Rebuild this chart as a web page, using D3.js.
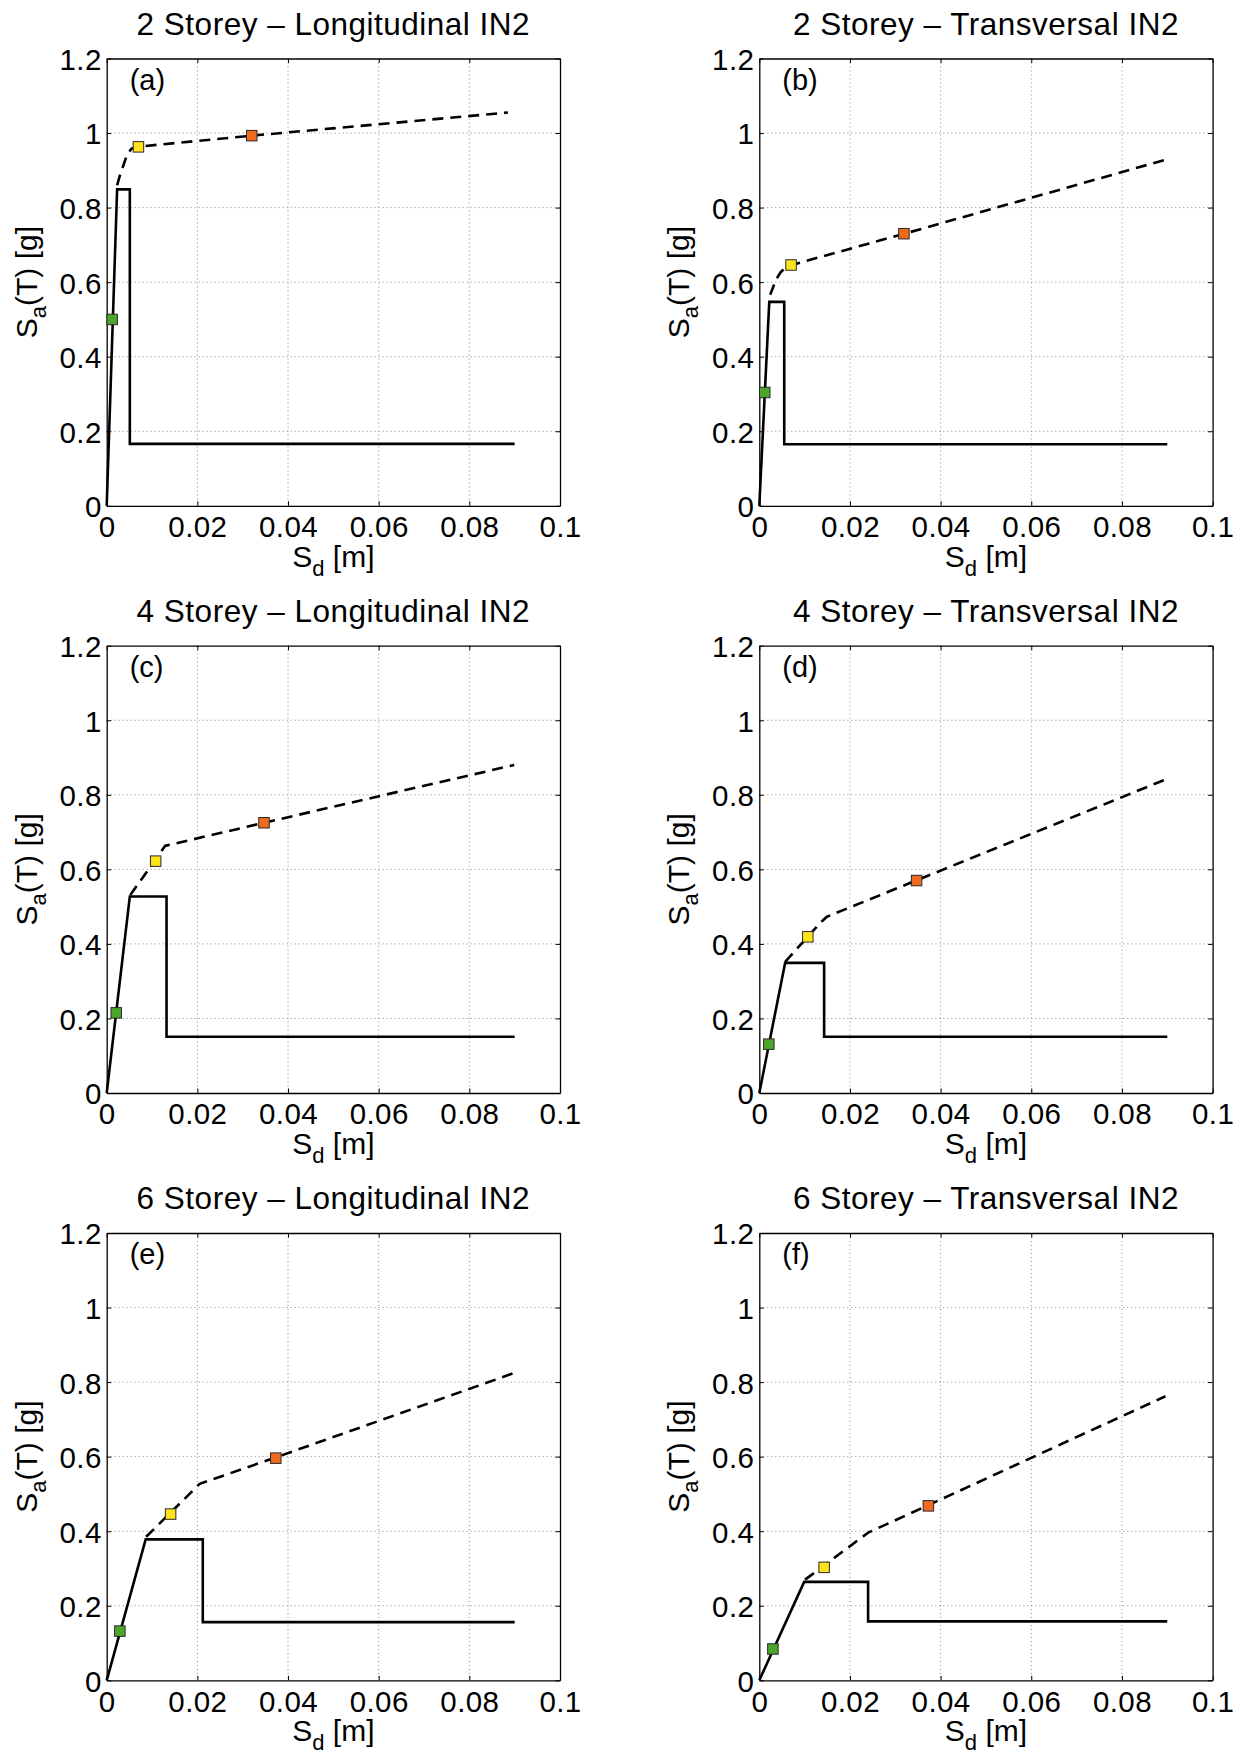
<!DOCTYPE html>
<html>
<head>
<meta charset="utf-8">
<script src="https://cdn.jsdelivr.net/npm/d3@7"></script>
<style>
  body { margin: 0; background: #fff; }
  text { font-family: "Liberation Sans", Arial, Helvetica, sans-serif; fill: #000; }
</style>
</head>
<body>
<svg id="fig" width="1240" height="1755"></svg>
<script>
// ---- data -------------------------------------------------------------
const panelTitles = [
  "2 Storey – Longitudinal IN2", "2 Storey – Transversal IN2",
  "4 Storey – Longitudinal IN2", "4 Storey – Transversal IN2",
  "6 Storey – Longitudinal IN2", "6 Storey – Transversal IN2"
];
const panelLetters = ["(a)", "(b)", "(c)", "(d)", "(e)", "(f)"];

const xTicks = [0, 0.02, 0.04, 0.06, 0.08, 0.1];
const xTickLabels = ["0", "0.02", "0.04", "0.06", "0.08", "0.1"];
const yTicks = [0, 0.2, 0.4, 0.6, 0.8, 1, 1.2];
const yTickLabels = ["0", "0.2", "0.4", "0.6", "0.8", "1", "1.2"];

// demand spectrum, [Sd (m), Sa (g)]
const spectrumA = [[0, 0], [0.0023, 0.849], [0.0051, 0.849], [0.0051, 0.166], [0.09, 0.166]];
const spectrumB = [[0, 0], [0.0022, 0.547], [0.0055, 0.547], [0.0055, 0.165], [0.09, 0.165]];
const spectrumC = [[0, 0], [0.0051, 0.527], [0.0132, 0.527], [0.0132, 0.151], [0.09, 0.151]];
const spectrumD = [[0, 0], [0.0057, 0.349], [0.0143, 0.349], [0.0143, 0.151], [0.09, 0.151]];
const spectrumE = [[0, 0], [0.0086, 0.378], [0.0212, 0.378], [0.0212, 0.156], [0.09, 0.156]];
const spectrumF = [[0, 0], [0.0099, 0.264], [0.024, 0.264], [0.024, 0.158], [0.09, 0.158]];

// capacity curve, [Sd (m), Sa (g)]
const capacityA = [[0.0023, 0.86], [0.003, 0.89], [0.0037, 0.914], [0.0043, 0.935], [0.0048, 0.948],
                   [0.0055, 0.958], [0.0065, 0.963], [0.032, 0.993], [0.0885, 1.055]];
const capacityB = [[0.0024, 0.566], [0.003, 0.585], [0.0035, 0.60], [0.0041, 0.615], [0.0048, 0.628],
                   [0.0057, 0.638], [0.0068, 0.645], [0.032, 0.73], [0.0895, 0.928]];
const capacityC = [[0.0052, 0.531], [0.0129, 0.663], [0.0347, 0.725], [0.0899, 0.880]];
const capacityD = [[0.0057, 0.352], [0.0135, 0.457], [0.0149, 0.473], [0.0898, 0.842]];
const capacityE = [[0.0087, 0.385], [0.0205, 0.527], [0.0373, 0.598], [0.0898, 0.824]];
const capacityF = [[0.0101, 0.27], [0.024, 0.396], [0.0373, 0.470], [0.0896, 0.762]];

// performance points: [green, yellow, orange]
const pointsA = [[0.0012, 0.50], [0.0070, 0.963], [0.0320, 0.993]];
const pointsB = [[0.0012, 0.304], [0.0070, 0.646], [0.0319, 0.730]];
const pointsC = [[0.0021, 0.215], [0.0108, 0.622], [0.0347, 0.725]];
const pointsD = [[0.0021, 0.131], [0.0107, 0.419], [0.0347, 0.570]];
const pointsE = [[0.0029, 0.132], [0.0141, 0.446], [0.0373, 0.596]];
const pointsF = [[0.0030, 0.084], [0.0143, 0.303], [0.0373, 0.468]];
const pointColors = ["#4ea52c", "#ffe31a", "#ee6b1e"];

const spectra = [spectrumA, spectrumB, spectrumC, spectrumD, spectrumE, spectrumF];
const capacities = [capacityA, capacityB, capacityC, capacityD, capacityE, capacityF];
const points = [pointsA, pointsB, pointsC, pointsD, pointsE, pointsF];

// ---- layout -----------------------------------------------------------
const colLeft = [106.7, 759.3];
const rowTop = [58.5, 645.7, 1233];
const plotW = 453.3, plotH = 447.3;
const FONT = "'Liberation Sans', Arial, Helvetica, sans-serif";

const svg = d3.select("#fig");
svg.append("rect").attr("width", 1240).attr("height", 1755).attr("fill", "#fff");

panelTitles.forEach((title, i) => {
  const left = colLeft[i % 2], top = rowTop[Math.floor(i / 2)];
  const x = d3.scaleLinear().domain([0, 0.1]).range([0, plotW]);
  const y = d3.scaleLinear().domain([0, 1.2]).range([plotH, 0]);
  const g = svg.append("g").attr("transform", `translate(${left},${top})`);

  // dotted grid
  g.append("g").selectAll("line").data(xTicks.slice(1, -1)).join("line")
    .attr("x1", d => x(d)).attr("x2", d => x(d)).attr("y1", 0).attr("y2", plotH)
    .attr("stroke", "#8a8a8a").attr("stroke-width", 1).attr("stroke-dasharray", "1,3");
  g.append("g").selectAll("line").data(yTicks.slice(1, -1)).join("line")
    .attr("y1", d => y(d)).attr("y2", d => y(d)).attr("x1", 0).attr("x2", plotW)
    .attr("stroke", "#8a8a8a").attr("stroke-width", 1).attr("stroke-dasharray", "1,3");

  // axes with inward ticks on all four sides
  const tick = 4.5;
  const xb = g.append("g").attr("transform", `translate(0,${plotH})`)
    .call(d3.axisBottom(x).tickValues(xTicks).tickSize(-tick).tickSizeOuter(0)
      .tickPadding(10.5).tickFormat((d, k) => xTickLabels[k]));
  const yl = g.append("g")
    .call(d3.axisLeft(y).tickValues(yTicks).tickSize(-tick).tickSizeOuter(0)
      .tickPadding(5).tickFormat((d, k) => yTickLabels[k]));
  g.append("g").call(d3.axisTop(x).tickValues(xTicks).tickSize(-tick).tickSizeOuter(0).tickFormat(""));
  g.append("g").attr("transform", `translate(${plotW},0)`)
    .call(d3.axisRight(y).tickValues(yTicks).tickSize(-tick).tickSizeOuter(0).tickFormat(""));
  g.selectAll(".domain").attr("stroke", "#000").attr("stroke-width", 1.3);
  g.selectAll(".tick line").attr("stroke", "#000").attr("stroke-width", 1);
  [xb, yl].forEach(a => a.selectAll("text").attr("font-size", 29.5)
    .attr("font-family", FONT).attr("fill", "#000").attr("letter-spacing", 0.4));
  yl.selectAll("text").attr("dy", "0.37em");

  const line = d3.line().x(d => x(d[0])).y(d => y(d[1]));

  // demand spectrum
  g.append("path").datum(spectra[i]).attr("d", line)
    .attr("fill", "none").attr("stroke", "#000").attr("stroke-width", 2.6)
    .attr("stroke-linejoin", "miter");

  // capacity curve
  g.append("path").datum(capacities[i]).attr("d", line)
    .attr("fill", "none").attr("stroke", "#000").attr("stroke-width", 2.6)
    .attr("stroke-linejoin", "round").attr("stroke-dasharray", "11,7");

  // performance points
  const s = 10.5;
  g.append("g").selectAll("rect").data(points[i]).join("rect")
    .attr("x", d => x(d[0]) - s / 2).attr("y", d => y(d[1]) - s / 2)
    .attr("width", s).attr("height", s)
    .attr("fill", (d, k) => pointColors[k]).attr("stroke", "#2a2a2a").attr("stroke-width", 1);

  // panel letter
  g.append("text").attr("x", 23).attr("y", 31).attr("font-size", 29).text(panelLetters[i]);

  // title
  g.append("text").attr("x", plotW / 2).attr("y", -24).attr("text-anchor", "middle")
    .attr("font-size", 31.5).attr("letter-spacing", 0.5).text(title);

  // x label
  const xl = g.append("text").attr("x", plotW / 2).attr("y", plotH + 61)
    .attr("text-anchor", "middle").attr("font-size", 30);
  xl.append("tspan").text("S");
  xl.append("tspan").attr("dy", 9).attr("font-size", 22).text("d");
  xl.append("tspan").attr("dy", -9).text(" [m]");

  // y label
  const ylab = g.append("text")
    .attr("transform", `translate(-70,${plotH / 2}) rotate(-90)`)
    .attr("text-anchor", "middle").attr("font-size", 30);
  ylab.append("tspan").text("S");
  ylab.append("tspan").attr("dy", 9).attr("font-size", 22).text("a");
  ylab.append("tspan").attr("dy", -9).text("(T) [g]");
});
</script>
</body>
</html>
